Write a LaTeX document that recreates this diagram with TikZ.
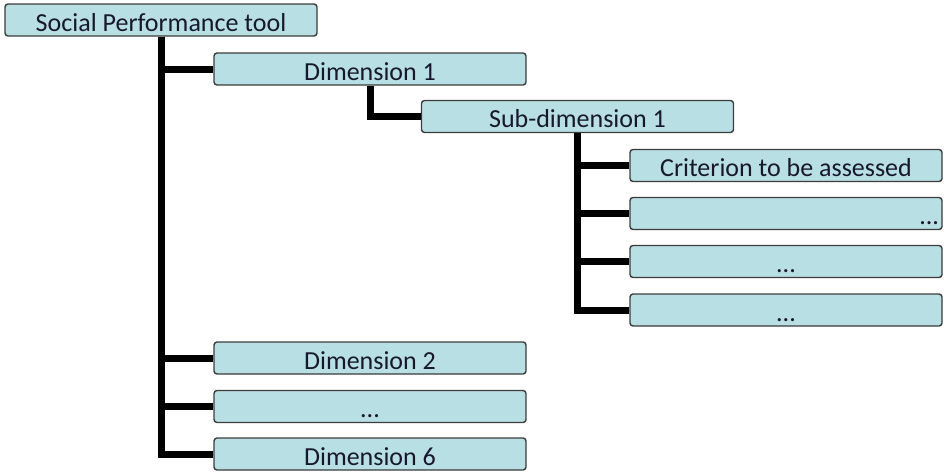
\documentclass[tikz,border=0pt]{standalone}
\usepackage{fontspec}
\setmainfont{Carlito}
\definecolor{boxfill}{RGB}{184,223,227}
\definecolor{boxline}{RGB}{60,60,60}
\definecolor{boxtext}{RGB}{24,24,44}
\tikzset{
  item/.style={draw=boxline, line width=1.4pt, fill=boxfill, rounded corners=3pt,
    minimum width=312pt, minimum height=32pt, inner sep=0pt,
    text=boxtext, font=\fontsize{26}{30}\selectfont,
    text height=22pt, text depth=0pt},
  itemright/.style={item, text width=306pt, align=right},
  branch/.style={line width=7pt, line join=miter, black}
}
\begin{document}
\begin{tikzpicture}[x=1pt, y=-1pt]
  \useasboundingbox (0,0) rectangle (944,472);
  % top level
  \node[item] (spt)  at (161,20)    {Social Performance tool};
  % dimensions
  \node[item] (dim1) at (370,69)    {Dimension 1};
  \node[item] (dim2) at (370,358)   {Dimension 2};
  \node[item] (dimx) at (370,406.5) {...};
  \node[item] (dim6) at (370,454)   {Dimension 6};
  % sub-dimension
  \node[item] (sub1) at (577.5,116.5) {Sub-dimension 1};
  % criteria
  \node[item]      (crit1) at (786,165.5) {Criterion to be assessed};
  \node[itemright] (crit2) at (786,213.5) {...};
  \node[item]      (crit3) at (786,261.5) {...};
  \node[item]      (crit4) at (786,310)   {...};
  % tree branches
  \foreach \c in {dim1,dim2,dimx,dim6}
    \draw[branch] (spt.south) |- (\c.west);
  \draw[branch] (dim1.south) |- (sub1.west);
  \foreach \c in {crit1,crit2,crit3,crit4}
    \draw[branch] (sub1.south) |- (\c.west);
\end{tikzpicture}
\end{document}
